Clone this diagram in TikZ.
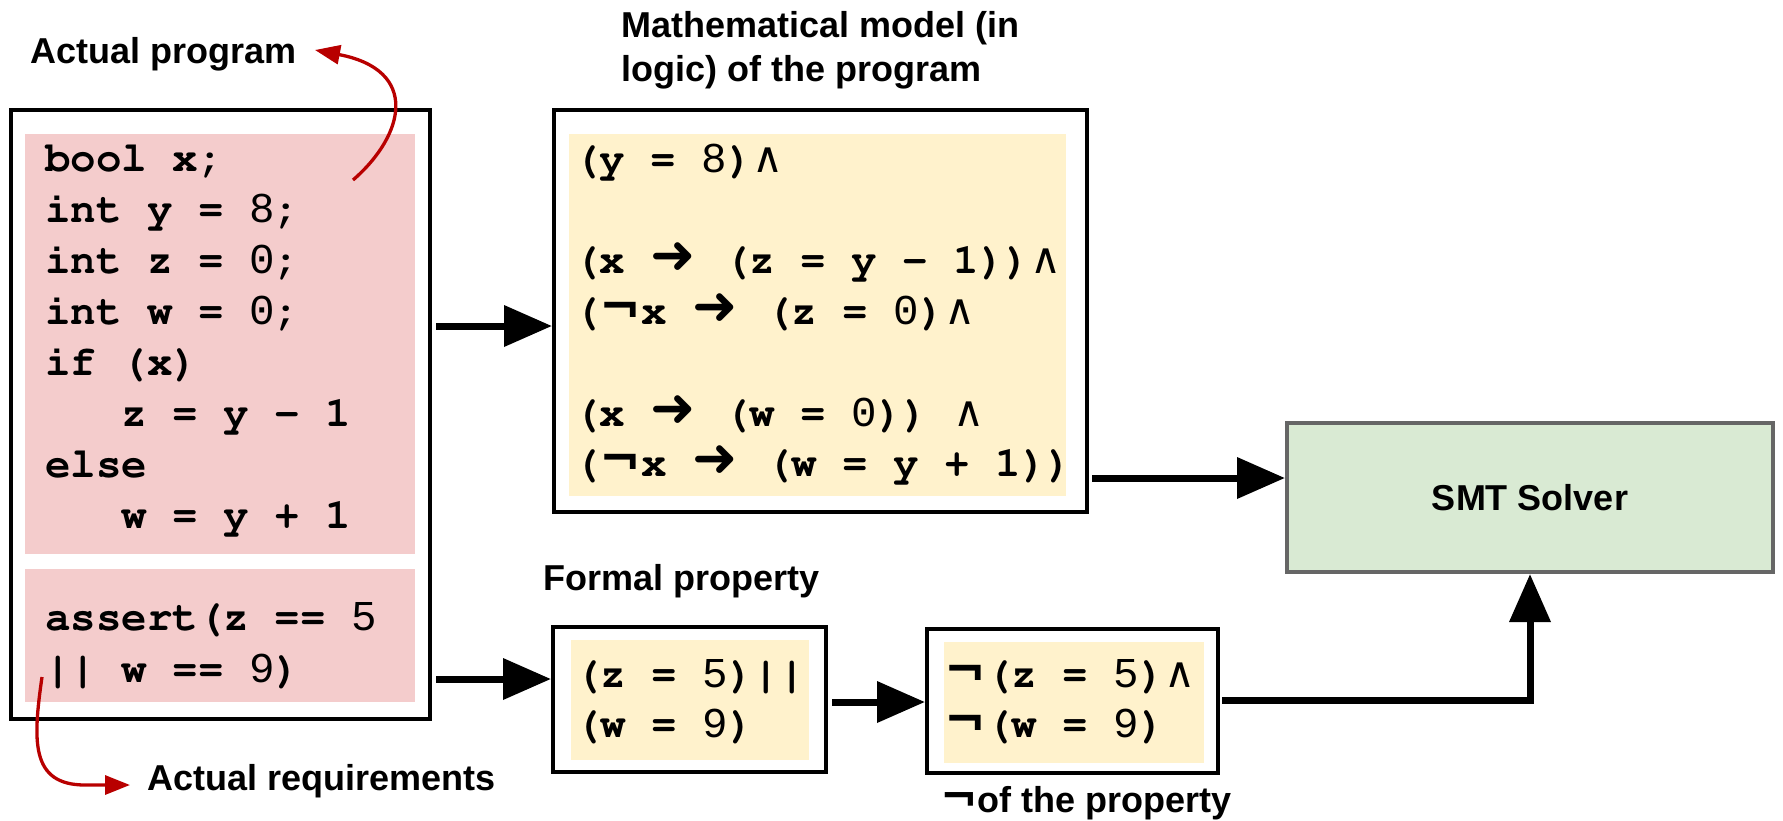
\documentclass[tikz,border=0pt]{standalone}
\usepackage[T1]{fontenc}
\usepackage{fontspec}
\setmainfont{Liberation Sans}
\newfontfamily\lmono{Liberation Mono}
\newfontfamily\dv{DejaVu Sans}
\newcommand\cf{\fontencoding{T1}\fontfamily{pcr}\fontseries{b}\selectfont}
\usetikzlibrary{arrows.meta}
\definecolor{pinkfill}{HTML}{F4CCCC}
\definecolor{yelfill}{HTML}{FFF2CC}
\definecolor{grnfill}{HTML}{D9EAD3}
\definecolor{smtline}{HTML}{666666}
\definecolor{darkred}{HTML}{B80000}
\newcommand\dg[1]{{\lmono\mdseries #1}}
\newcommand\ngt[1][50]{{\dv\bfseries\fontsize{#1}{#1}\selectfont ¬}}
\newcommand\andsym{{\dv\mdseries ∧}}
\newcommand\impl{{\dv\bfseries\fontsize{54}{54}\selectfont ➜}\hspace{3pt}}
\tikzset{
  outerbox/.style={draw=black, line width=4pt, fill=white, inner sep=0pt, outer sep=0pt},
  pinkbox/.style={fill=pinkfill, inner sep=0pt, outer sep=0pt},
  yelbox/.style={fill=yelfill, inner sep=0pt, outer sep=0pt},
  smtbox/.style={draw=smtline, fill=grnfill, line width=4pt, inner sep=0pt, outer sep=0pt,
    font=\bfseries\fontsize{36}{44}\selectfont},
  codeline/.style={anchor=base west, inner sep=0pt, font=\fontsize{42.5}{51}\cf},
  lbl/.style={anchor=base west, inner sep=0pt, font=\bfseries\fontsize{36}{44}\selectfont},
  flow/.style={line width=7pt, -{Triangle[length=48pt,width=40pt]}},
  note/.style={draw=darkred, line width=3.3pt, -{Triangle[length=25pt,width=19pt]}},
}
\begin{document}
\begin{tikzpicture}[x=1pt,y=-1pt]
\useasboundingbox (0,0) rectangle (1783,820);

% ---- program box ----
\node[outerbox, minimum width=419pt, minimum height=609pt] (prog) at (220.5,414.5) {};
\node[pinkbox, minimum width=390pt, minimum height=420pt] (code) at (220,344) {};
\node[pinkbox, minimum width=390pt, minimum height=133pt] (req) at (220,635.5) {};

\node[codeline] (c0) at (45,171) {bool x;};
\node[codeline] (c1) at (45,222) {int y = \dg{8};};
\node[codeline] (c2) at (45,273) {int z = \dg{0};};
\node[codeline] (c3) at (45,324) {int w = \dg{0};};
\node[codeline] (c4) at (45,375) {if (x)};
\node[codeline] (c5) at (45,426) {\phantom{xxx}z = y - 1};
\node[codeline] (c6) at (45,477) {else};
\node[codeline] (c7) at (45,528) {\phantom{xxx}w = y + 1};
\node[codeline] (c8) at (45,630) {assert(z == \dg{5}};
\node[codeline] (c9) at (45,682) {|| w == \dg{9})};

% ---- model box ----
\node[outerbox, minimum width=533pt, minimum height=402pt] (model) at (820.5,311) {};
\node[yelbox, minimum width=497pt, minimum height=362pt] (modely) at (817.5,315) {};
\node[codeline] (m0) at (574,172) {(y = \dg{8})\andsym};
\node[codeline] (m1) at (574,273.6) {(x \impl{} (z = y - 1))\andsym};
\node[codeline] (m2) at (574,324.4) {(\ngt x \impl{} (z = \dg{0})\andsym};
\node[codeline] (m3) at (574,426) {(x \impl{} (w = \dg{0})) \andsym};
\node[codeline] (m4) at (574,476.8) {(\ngt x \impl{} (w = y + 1))};

% ---- SMT solver ----
\node[smtbox, minimum width=486pt, minimum height=149pt] (smt) at (1530,497.5) {SMT Solver};

% ---- formal property ----
\node[outerbox, minimum width=273pt, minimum height=145pt] (fp) at (689.5,699.5) {};
\node[yelbox, minimum width=238pt, minimum height=120pt] (fpy) at (690,700) {};
\node[codeline] (f0) at (575,687) {(z = \dg{5})||};
\node[codeline] (f1) at (575,737) {(w = \dg{9})};

% ---- negated property ----
\node[outerbox, minimum width=291pt, minimum height=144pt] (neg) at (1072.5,701) {};
\node[yelbox, minimum width=260pt, minimum height=121pt] (negy) at (1074,702.5) {};
\node[codeline] (n0) at (944,687) {\ngt(z = \dg{5})\andsym};
\node[codeline] (n1) at (944,737) {\ngt(w = \dg{9})};

% ---- labels ----
\node[lbl] (lprog) at (30,63) {Actual program};
\node[lbl] (lmodel1) at (621,37) {Mathematical model (in};
\node[lbl] (lmodel2) at (621,81) {logic) of the program};
\node[lbl] (lfp) at (543,590) {Formal property};
\node[lbl] (lreq) at (147,790) {Actual requirements};
\node[lbl] (lneg) at (940,812) {\ngt[45]of the property};

% ---- flow arrows ----
\coordinate (ya) at (0,326);
\coordinate (yb) at (0,679);
\coordinate (yc) at (0,478);
\coordinate (yd) at (0,702);
\coordinate (ye) at (0,700);
\draw[flow] ([xshift=6pt]prog.east |- ya) -- ([xshift=-2pt]model.west |- ya);
\draw[flow] ([xshift=6pt]prog.east |- yb) -- ([xshift=-2pt]fp.west |- yb);
\draw[flow] ([xshift=5pt]model.east |- yc) -- ([xshift=-2pt]smt.west |- yc);
\draw[flow] ([xshift=6pt]fp.east |- yd) -- ([xshift=-2pt]neg.west |- yd);
\draw[flow] ([xshift=4pt]neg.east |- ye) -| ([yshift=-2pt]smt.south);

% ---- red annotation arrows ----
\coordinate (r1s) at (353,180);
\coordinate (r1e) at (315,50);
\draw[note] (r1s) .. controls (405,135) and (420,70) .. (r1e);
\coordinate (r2s) at (42,677);
\coordinate (r2m) at (85,785);
\coordinate (r2e) at (130,785);
\draw[note] (r2s) .. controls (33,740) and (30,785) .. (r2m) -- (r2e);
\end{tikzpicture}
\end{document}
